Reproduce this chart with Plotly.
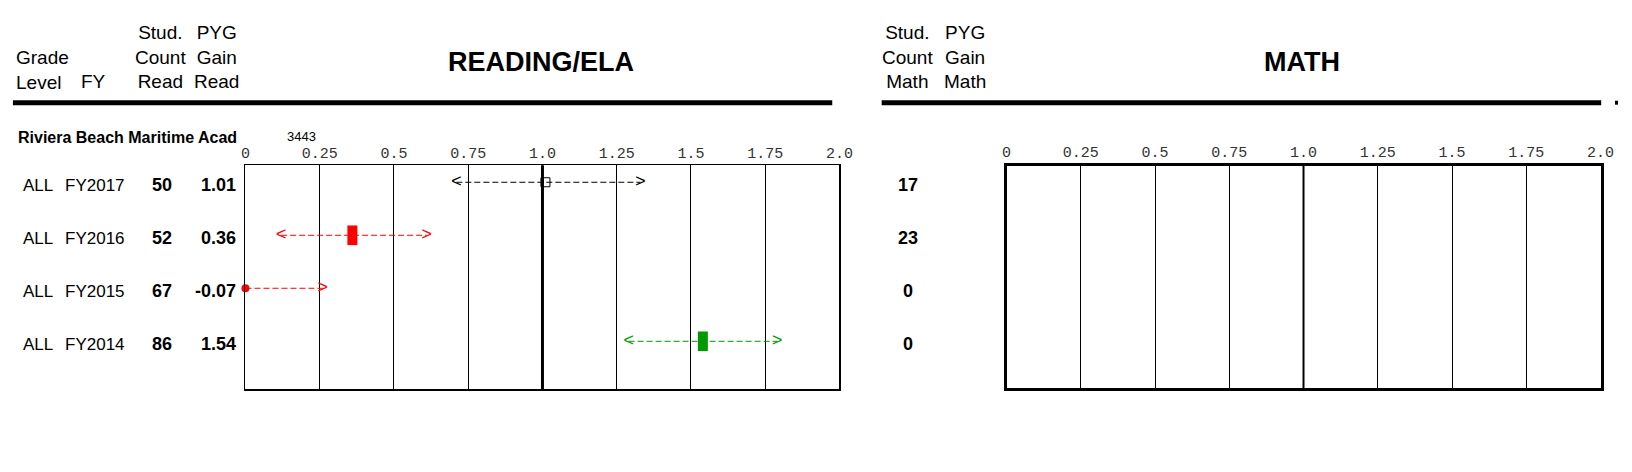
import plotly.graph_objects as go

# ---------------- data ----------------
grade = ["ALL", "ALL", "ALL", "ALL"]
fy = ["FY2017", "FY2016", "FY2015", "FY2014"]
count_read = [50, 52, 67, 86]
pyg_read = [1.01, 0.36, -0.07, 1.54]
ci_low_read = [0.71, 0.12, -0.40, 1.29]
ci_high_read = [1.33, 0.61, 0.26, 1.79]
count_math = [17, 23, 0, 0]
school = "Riviera Beach Maritime Acad"
school_id = "3443"
tick_vals = [0, 0.25, 0.5, 0.75, 1.0, 1.25, 1.5, 1.75, 2.0]
tick_text = ["0", "0.25", "0.5", "0.75", "1.0", "1.25", "1.5", "1.75", "2.0"]

# ---------------- layout helpers ----------------
W, H = 1632, 472
def px(x):
    return x / W
def py(y):
    return 1 - y / H

SANS = "Liberation Sans, Arial, sans-serif"
MONO = "Liberation Mono, DejaVu Sans Mono, monospace"
RED, GREEN, BLACK = "#ff0000", "#009a00", "#000000"

rows = list(range(len(fy)))
fig = go.Figure()

for i in rows:
    v, lo, hi = pyg_read[i], ci_low_read[i], ci_high_read[i]
    if lo > 1:
        col = GREEN
    elif hi < 1:
        col = RED
    else:
        col = BLACK
    x0 = max(lo, 0)
    fig.add_trace(go.Scatter(x=[max(v, 0) if lo < 0 else x0, hi], y=[i, i], mode="lines",
                             line=dict(color=col, width=1, dash="6px,3px"),
                             xaxis="x", yaxis="y", hoverinfo="skip", showlegend=False))
    chev_x, chev_t = [hi], [">"]
    if lo >= 0:
        chev_x.append(lo)
        chev_t.append("<")
    fig.add_trace(go.Scatter(x=chev_x, y=[i] * len(chev_x), mode="text", text=chev_t,
                             textposition="middle center",
                             textfont=dict(family=MONO, size=18, color=col),
                             xaxis="x", yaxis="y", hoverinfo="skip", showlegend=False,
                             cliponaxis=False))
    if v < 0:
        mk = dict(symbol="circle", size=8, color=col, line=dict(width=0))
    elif col == BLACK:
        mk = dict(symbol="square-open", size=9, color=col, line=dict(width=1, color=col))
    else:
        mk = dict(symbol="line-ns-open", size=14, color=col, line=dict(width=10, color=col))
    fig.add_trace(go.Scatter(x=[max(v, 0)], y=[i], mode="markers", marker=mk,
                             xaxis="x", yaxis="y", hoverinfo="skip", showlegend=False,
                             cliponaxis=False))

fig.add_trace(go.Scatter(x=[None], y=[None], xaxis="x2", yaxis="y2", showlegend=False))

ax_common = dict(range=[0, 2], tickvals=tick_vals, ticktext=tick_text, side="top",
                 showgrid=True, gridcolor="black", gridwidth=1, zeroline=False,
                 ticks="", tickfont=dict(family=MONO, size=15, color="#333333"),
                 showline=True, mirror=True, linecolor="black", fixedrange=True)
y_common = dict(range=[3.9, -0.32], showgrid=False, zeroline=False, showticklabels=False,
                ticks="", showline=True, mirror=True, linecolor="black", fixedrange=True)

fig.update_layout(
    width=W, height=H, autosize=False, margin=dict(l=0, r=0, t=0, b=0),
    paper_bgcolor="white", plot_bgcolor="white", showlegend=False,
    xaxis=dict(domain=[px(243.3), px(844.3)], anchor="y", linewidth=1.5, **ax_common),
    yaxis=dict(domain=[py(389), py(165.3)], anchor="x", linewidth=1.5, **y_common),
    xaxis2=dict(domain=[px(1013.3), px(1614.3)], anchor="y2", linewidth=3, **ax_common),
    yaxis2=dict(domain=[py(388.3), py(166)], anchor="x2", linewidth=3, **y_common),
)

shapes = [
    dict(type="line", xref="x", yref="y domain", x0=1, x1=1, y0=0, y1=1,
         line=dict(color="black", width=3)),
    dict(type="line", xref="x2", yref="y2 domain", x0=1, x1=1, y0=0, y1=1,
         line=dict(color="black", width=2)),
    dict(type="line", xref="paper", yref="paper", x0=px(8), x1=px(837), y0=py(102.7), y1=py(102.7),
         line=dict(color="black", width=5)),
    dict(type="line", xref="paper", yref="paper", x0=px(887), x1=px(1615), y0=py(102.7), y1=py(102.7),
         line=dict(color="black", width=5)),
    dict(type="line", xref="paper", yref="paper", x0=px(1629), x1=px(1632), y0=py(102.7), y1=py(102.7),
         line=dict(color="black", width=4)),
]
fig.update_layout(shapes=shapes)

ann = []
def txt(x, y, s, size=18, bold=False, xanchor="center", yanchor="middle", xref="paper", yref="paper",
        family=SANS, align="center", yshift=0):
    ann.append(dict(x=x, y=y, xref=xref, yref=yref, text=f"<b>{s}</b>" if bold else s,
                    showarrow=False, xanchor=xanchor, yanchor=yanchor, align=align, yshift=yshift,
                    font=dict(family=family, size=size, color="black")))

txt(px(9), py(69.5), "Grade<br>Level", size=19, xanchor="left", align="left")
txt(px(90), py(82), "FY", size=19)
txt(px(157), py(57.5), "Stud.<br>Count<br>Read", size=19)
txt(px(214), py(57.5), "PYG<br>Gain<br>Read", size=19)
txt(px(542.5), py(61.7), "READING/ELA", size=27, bold=True)
txt(px(913), py(57.5), "Stud.<br>Count<br>Math", size=19)
txt(px(971), py(57.5), "PYG<br>Gain<br>Math", size=19)
txt(px(1312), py(61.7), "MATH", size=27, bold=True)
txt(px(11), py(137), school, size=16, bold=True, xanchor="left")
txt(px(300), py(136.7), school_id, size=13)

for i in rows:
    txt(px(33), i, grade[i], size=17, yref="y", yshift=-3)
    txt(px(91.5), i, fy[i], size=17, yref="y", yshift=-3)
    txt(px(159), i, str(count_read[i]), size=18, bold=True, yref="y", yshift=-3)
    txt(px(236), i, f"{pyg_read[i]:.2f}", size=18, bold=True, xanchor="right", yref="y", yshift=-3)
    txt(px(914), i, str(count_math[i]), size=18, bold=True, yref="y", yshift=-3)

fig.update_layout(annotations=ann)
post = ("document.documentElement.style.margin='0';document.documentElement.style.overflow='hidden';"
        "document.body.style.margin='0';document.body.style.padding='0';document.body.style.overflow='hidden';")
fig.write_html("out.html", post_script=post,
               config={"displayModeBar": False, "responsive": False, "staticPlot": True})
